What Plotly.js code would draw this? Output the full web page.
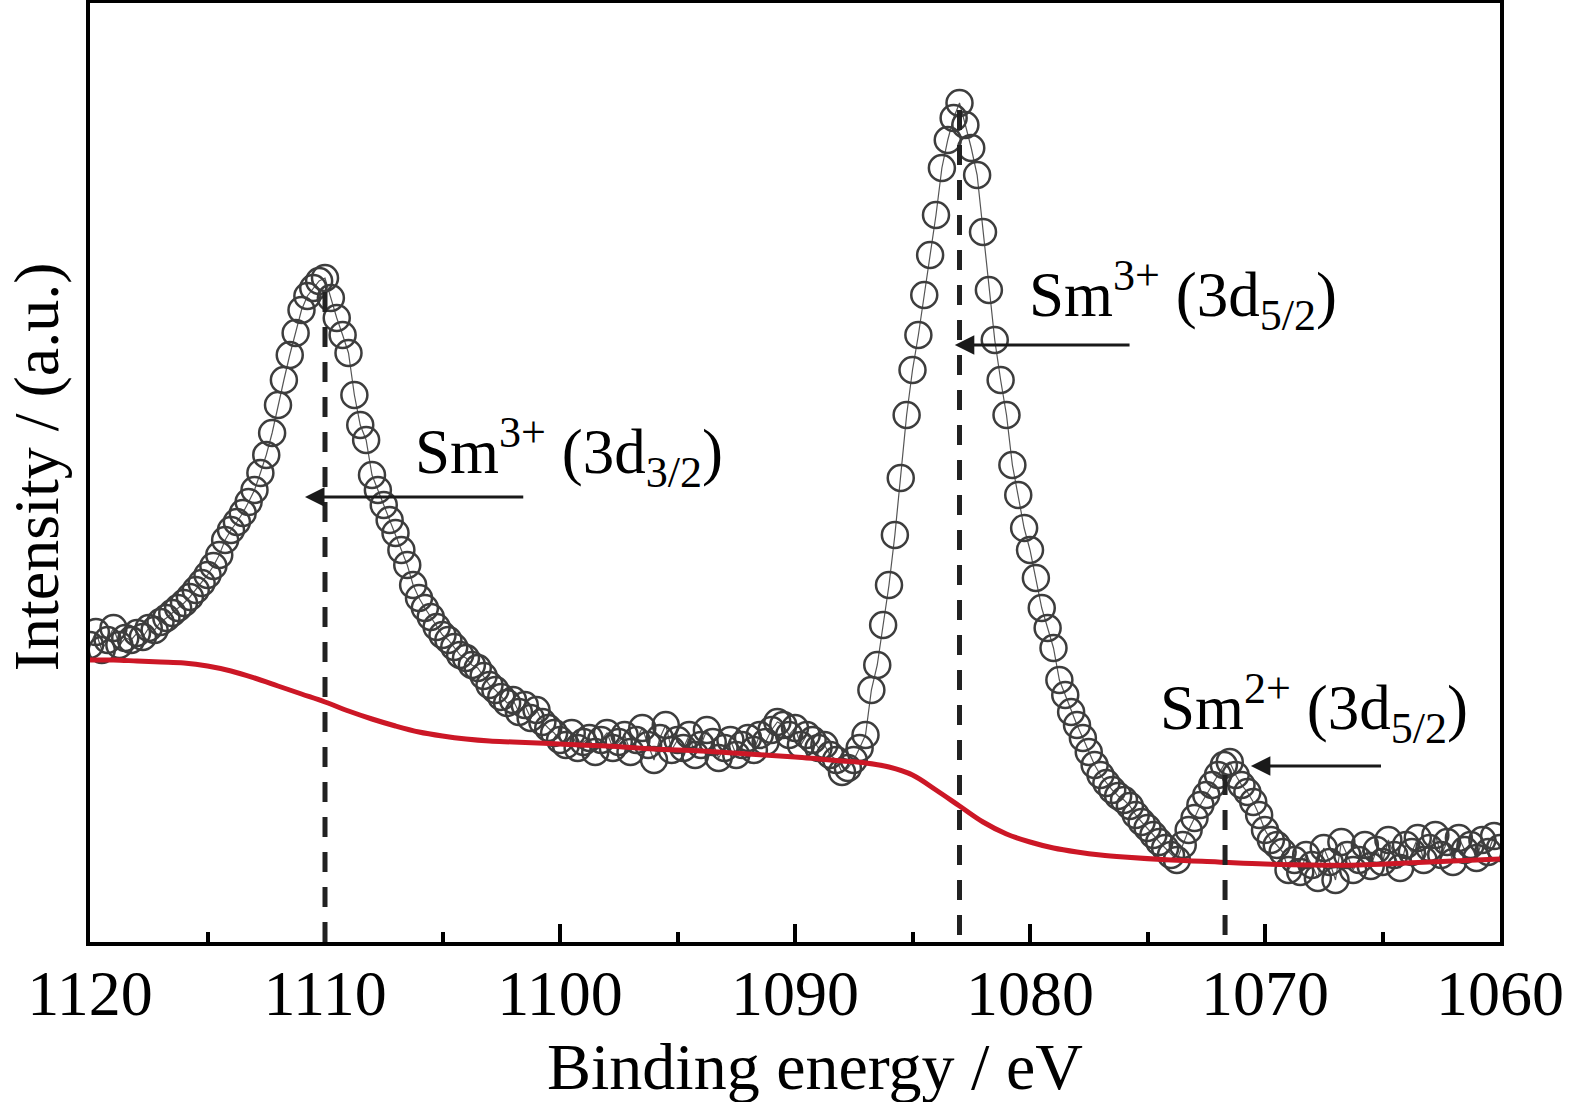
<!DOCTYPE html>
<html>
<head>
<meta charset="utf-8">
<script src="https://cdn.plot.ly/plotly-3.0.1.min.js"></script>
<style>
  html, body { margin: 0; padding: 0; background: #fff; }
  #plot { width: 1569px; height: 1102px; }
</style>
</head>
<body>
<div id="plot"></div>
<script>
// Sm 3d XPS spectrum, binding energy in eV (0.25 eV steps), intensity in a.u.
const energy = [
  1120.00, 1119.75, 1119.50, 1119.25, 1119.00, 1118.75, 1118.50, 1118.25, 1118.00, 1117.75,
  1117.50, 1117.25, 1117.00, 1116.75, 1116.50, 1116.25, 1116.00, 1115.75, 1115.50, 1115.25,
  1115.00, 1114.75, 1114.50, 1114.25, 1114.00, 1113.75, 1113.50, 1113.25, 1113.00, 1112.75,
  1112.50, 1112.25, 1112.00, 1111.75, 1111.50, 1111.25, 1111.00, 1110.75, 1110.50, 1110.25,
  1110.00, 1109.75, 1109.50, 1109.25, 1109.00, 1108.75, 1108.50, 1108.25, 1108.00, 1107.75,
  1107.50, 1107.25, 1107.00, 1106.75, 1106.50, 1106.25, 1106.00, 1105.75, 1105.50, 1105.25,
  1105.00, 1104.75, 1104.50, 1104.25, 1104.00, 1103.75, 1103.50, 1103.25, 1103.00, 1102.75,
  1102.50, 1102.25, 1102.00, 1101.75, 1101.50, 1101.25, 1101.00, 1100.75, 1100.50, 1100.25,
  1100.00, 1099.75, 1099.50, 1099.25, 1099.00, 1098.75, 1098.50, 1098.25, 1098.00, 1097.75,
  1097.50, 1097.25, 1097.00, 1096.75, 1096.50, 1096.25, 1096.00, 1095.75, 1095.50, 1095.25,
  1095.00, 1094.75, 1094.50, 1094.25, 1094.00, 1093.75, 1093.50, 1093.25, 1093.00, 1092.75,
  1092.50, 1092.25, 1092.00, 1091.75, 1091.50, 1091.25, 1091.00, 1090.75, 1090.50, 1090.25,
  1090.00, 1089.75, 1089.50, 1089.25, 1089.00, 1088.75, 1088.50, 1088.25, 1088.00, 1087.75,
  1087.50, 1087.25, 1087.00, 1086.75, 1086.50, 1086.25, 1086.00, 1085.75, 1085.50, 1085.25,
  1085.00, 1084.75, 1084.50, 1084.25, 1084.00, 1083.75, 1083.50, 1083.25, 1083.00, 1082.75,
  1082.50, 1082.25, 1082.00, 1081.75, 1081.50, 1081.25, 1081.00, 1080.75, 1080.50, 1080.25,
  1080.00, 1079.75, 1079.50, 1079.25, 1079.00, 1078.75, 1078.50, 1078.25, 1078.00, 1077.75,
  1077.50, 1077.25, 1077.00, 1076.75, 1076.50, 1076.25, 1076.00, 1075.75, 1075.50, 1075.25,
  1075.00, 1074.75, 1074.50, 1074.25, 1074.00, 1073.75, 1073.50, 1073.25, 1073.00, 1072.75,
  1072.50, 1072.25, 1072.00, 1071.75, 1071.50, 1071.25, 1071.00, 1070.75, 1070.50, 1070.25,
  1070.00, 1069.75, 1069.50, 1069.25, 1069.00, 1068.75, 1068.50, 1068.25, 1068.00, 1067.75,
  1067.50, 1067.25, 1067.00, 1066.75, 1066.50, 1066.25, 1066.00, 1065.75, 1065.50, 1065.25,
  1065.00, 1064.75, 1064.50, 1064.25, 1064.00, 1063.75, 1063.50, 1063.25, 1063.00, 1062.75,
  1062.50, 1062.25, 1062.00, 1061.75, 1061.50, 1061.25, 1061.00, 1060.75, 1060.50, 1060.25,
  1060.00
];

const intensity = [
  297, 310, 292, 302, 314, 297, 304, 302, 309, 305,
  314, 312, 320, 324, 329, 334, 339, 345, 352, 359,
  367, 376, 387, 402, 412, 420, 429, 440, 452, 469,
  487, 509, 537, 562, 587, 609, 632, 646, 654, 661,
  664, 644, 624, 607, 589, 547, 517, 502, 467, 452,
  437, 422, 409, 392, 377, 357, 344, 334, 325, 315,
  307, 302, 295, 287, 284, 277, 274, 266, 257, 252,
  245, 239, 242, 230, 237, 224, 232, 220, 214, 209,
  202, 197, 209, 194, 200, 204, 190, 202, 209, 194,
  200, 207, 190, 202, 214, 197, 182, 204, 217, 192,
  202, 194, 207, 187, 197, 212, 200, 184, 194, 202,
  187, 197, 204, 192, 207, 200, 212, 220, 217, 207,
  214, 197, 207, 202, 194, 197, 187, 182, 170, 174,
  182, 194, 207, 252, 277, 317, 357, 407, 464, 527,
  572, 607, 647, 687, 727, 774, 802, 824, 839, 817,
  794, 767, 710, 652, 602, 562, 527, 477, 447, 414,
  392, 364, 334, 314, 294, 262, 247, 230, 217, 204,
  190, 177, 167, 159, 152, 146, 142, 136, 127, 120,
  114, 107, 100, 94, 87, 82, 97, 112, 124, 137,
  147, 157, 167, 177, 180, 167, 157, 150, 140, 127,
  112, 102, 97, 90, 72, 82, 70, 87, 77, 64,
  94, 80, 62, 100, 87, 72, 82, 97, 76, 92,
  80, 102, 87, 74, 97, 90, 104, 82, 94, 107,
  87, 100, 80, 104, 92, 97, 84, 102, 90, 106,
  94
];

// Shirley-type background
const bgEnergy = [
  1120, 1119, 1118, 1117, 1116, 1115, 1114, 1113, 1112, 1111,
  1110, 1109, 1108, 1107, 1106, 1105, 1104, 1103, 1102, 1100,
  1098, 1096, 1094, 1092, 1090, 1089, 1088, 1087, 1086, 1085,
  1084, 1083, 1082, 1081, 1080, 1079, 1078, 1077, 1076, 1074,
  1072, 1070, 1068, 1066, 1064, 1062, 1060
];
const bgIntensity = [
  282, 282, 281, 280, 279, 276, 271, 264, 256, 248,
  240, 231, 223, 216, 210, 206, 203, 201, 200, 198,
  196, 193, 191, 188, 185, 183, 181, 179, 175, 167,
  152, 136, 120, 108, 100, 94, 90, 87, 85, 82,
  80, 78, 77, 77, 79, 81, 83
];

// peak markers: energy, top and bottom of the dashed guide
const peakEnergy = [1110.0, 1083.0, 1071.7];
const peakTop = [652, 832, 175];
const peakBottom = [0, 7, 7];

// labels and arrows
const labelText = [
  'Sm<sup>3+</sup> (3d<sub>3/2</sub>)',
  'Sm<sup>3+</sup> (3d<sub>5/2</sub>)',
  'Sm<sup>2+</sup> (3d<sub>5/2</sub>)'
];
const labelX = [1099.6, 1073.5, 1067.9];
const labelY = [490, 647, 234];
const arrowTipX = [1110.85, 1083.2, 1070.6];
const arrowTailX = [1101.5, 1075.7, 1065.0];
const arrowY = [445, 597, 176];

const FONT = '"Liberation Serif", "Times New Roman", Times, serif';

const traces = [
  {
    x: energy,
    y: intensity,
    type: 'scatter',
    mode: 'lines+markers',
    line: { color: '#555', width: 1.2 },
    marker: { symbol: 'circle-open', size: 26, color: '#3d3d3d', line: { width: 2.5 } },
    hoverinfo: 'x+y',
  },
  {
    x: bgEnergy,
    y: bgIntensity,
    type: 'scatter',
    mode: 'lines',
    line: { color: '#cc1726', width: 5, shape: 'spline', smoothing: 1 },
    hoverinfo: 'skip',
  },
];

const shapes = peakEnergy.map((e, i) => ({
  type: 'line',
  xref: 'x', yref: 'y',
  x0: e, x1: e,
  y0: peakBottom[i], y1: peakTop[i],
  line: { color: '#222', width: 5, dash: '20px,15px' },
}));

const annotations = [];
labelText.forEach((t, i) => {
  annotations.push({
    x: labelX[i], y: labelY[i], xref: 'x', yref: 'y',
    text: t, showarrow: false,
    font: { family: FONT, size: 63, color: '#000' },
  });
  annotations.push({
    x: arrowTipX[i], y: arrowY[i], xref: 'x', yref: 'y',
    ax: arrowTailX[i], ay: arrowY[i], axref: 'x', ayref: 'y',
    text: '', showarrow: true,
    arrowhead: 2, arrowsize: 1.3, arrowwidth: 3, arrowcolor: '#1a1a1a',
  });
});

annotations.push({
  xref: 'paper', yref: 'paper', x: 0.514, y: -0.133,
  text: 'Binding energy / eV', showarrow: false,
  font: { family: FONT, size: 66, color: '#000' },
  xanchor: 'center', yanchor: 'middle',
});
annotations.push({
  xref: 'paper', yref: 'paper', x: -0.038, y: 0.506,
  text: 'Intensity / (a.u.)', showarrow: false, textangle: -90,
  font: { family: FONT, size: 64, color: '#000' },
  xanchor: 'center', yanchor: 'middle',
});

const layout = {
  width: 1569,
  height: 1102,
  margin: { l: 90, r: 69, t: 3, b: 160 },
  paper_bgcolor: '#fff',
  plot_bgcolor: '#fff',
  showlegend: false,
  font: { family: FONT, color: '#000' },
  xaxis: {
    range: [1120, 1060],
    tickvals: [1120, 1110, 1100, 1090, 1080, 1070, 1060],
    ticks: 'inside',
    ticklen: 18,
    tickwidth: 4,
    tickcolor: '#000',
    minor: { tickvals: [1115, 1105, 1095, 1085, 1075, 1065], ticks: 'inside', ticklen: 10, tickwidth: 4, tickcolor: '#000' },
    tickfont: { family: FONT, size: 64, color: '#000' },
    ticklabelstandoff: -8,
    showgrid: false,
    zeroline: false,
    showline: true,
    linecolor: '#000',
    linewidth: 4,
    mirror: true,
  },
  yaxis: {
    range: [0, 939],
    showticklabels: false,
    ticks: '',
    showgrid: false,
    zeroline: false,
    showline: true,
    linecolor: '#000',
    linewidth: 4,
    mirror: true,
  },
  shapes: shapes,
  annotations: annotations,
};

Plotly.newPlot('plot', traces, layout, { displayModeBar: false, staticPlot: true });
</script>
</body>
</html>
